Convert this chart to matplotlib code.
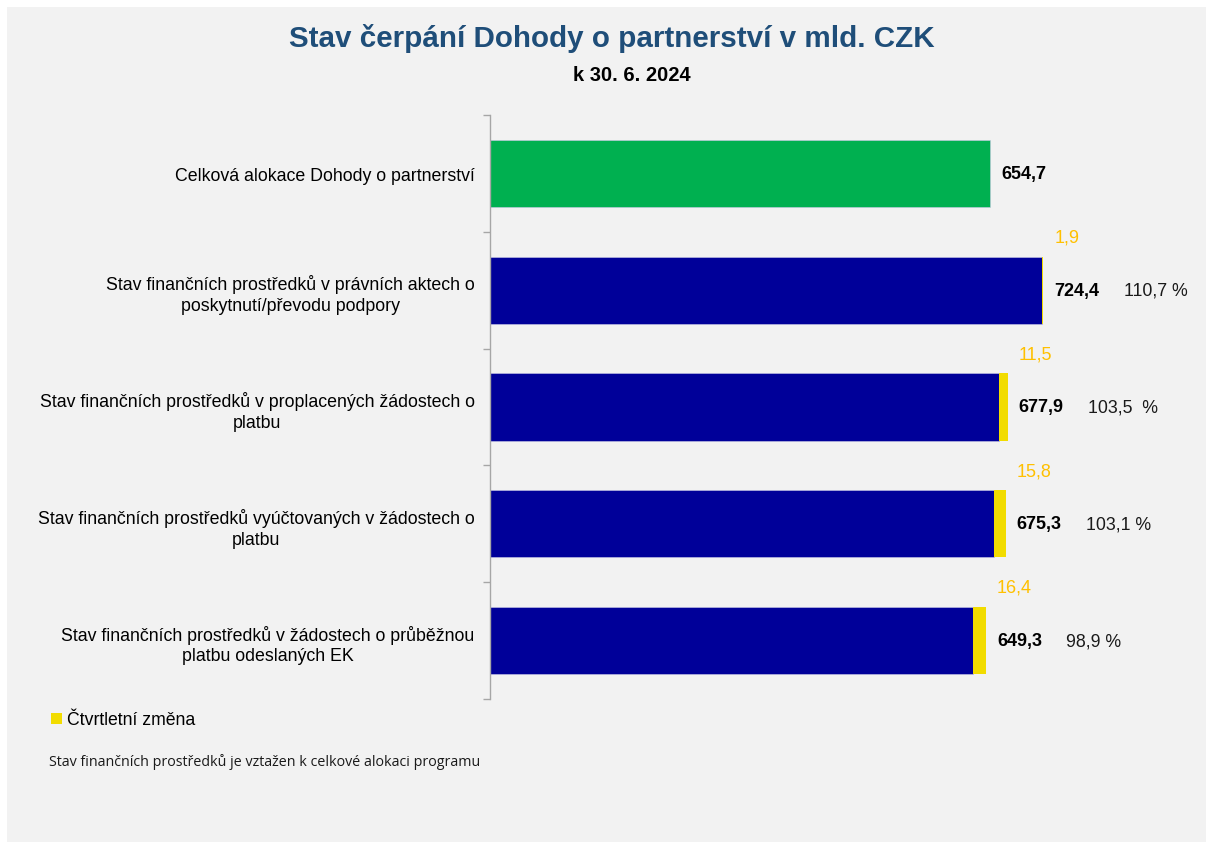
import numpy as np
import matplotlib.pyplot as plt
from matplotlib.patches import Rectangle

# data (mld. CZK)
categories = [
    "Celková alokace Dohody o partnerství",
    "Stav finančních prostředků v právních aktech o\nposkytnutí/převodu podpory",
    "Stav finančních prostředků v proplacených žádostech o\nplatbu",
    "Stav finančních prostředků vyúčtovaných v žádostech o\nplatbu",
    "Stav finančních prostředků v žádostech o průběžnou\nplatbu odeslaných EK",
]
totals = [654.7, 724.4, 677.9, 675.3, 649.3]
changes = [0.0, 1.9, 11.5, 15.8, 16.4]
value_labels = ["654,7", "724,4", "677,9", "675,3", "649,3"]
change_labels = ["", "1,9", "11,5", "15,8", "16,4"]
pct_labels = ["", "110,7 %", "103,5  %", "103,1 %", "98,9 %"]

green = "#00b050"
navy = "#000099"
yellow = "#f2dc00"
gold = "#ffc000"
title_blue = "#1f4e79"

plt.rcParams['font.family'] = ['Liberation Sans', 'DejaVu Sans']

fig = plt.figure(figsize=(12.06, 8.45), dpi=100)
fig.patch.set_facecolor("white")
fig.patches.append(Rectangle((7/1206, 2/845), 1 - 7/1206, 835/845, transform=fig.transFigure,
                             facecolor="#f2f2f2", edgecolor="none", zorder=-10))

ax = fig.add_axes([490/1206, 145/845, 672/1206, 584/845])
ax.set_facecolor("none")

y = np.arange(len(categories))
totals = np.array(totals)
changes = np.array(changes)
base = totals - changes

colors = [green] + [navy] * (len(categories) - 1)
ax.barh(y, base, height=0.575, color=colors, edgecolor="#c8c8e6", linewidth=0.4)
chg = ax.barh(y[1:], changes[1:], left=base[1:], height=0.575, color=yellow,
              edgecolor="none", label="Čtvrtletní změna")

ax.set_xlim(0, 880)
ax.set_ylim(len(categories) - 0.52, -0.48)

for i in range(len(categories)):
    ax.annotate(value_labels[i], (totals[i], y[i]), xytext=(8, 0), textcoords="offset points",
                ha="left", va="center", fontsize=13, fontweight="bold", color="black")
    if pct_labels[i]:
        ax.annotate(pct_labels[i], (totals[i], y[i]), xytext=(58, 0), textcoords="offset points",
                    ha="left", va="center", fontsize=12.8, color="#1a1a1a")
    if change_labels[i]:
        ax.annotate(change_labels[i], (totals[i], y[i] - 0.455), xytext=(8, 0),
                    textcoords="offset points", ha="left", va="center", fontsize=13, color=gold)

# axis styling: boundary ticks, labels centered on categories
ax.set_yticks(np.arange(-0.5, len(categories)), labels=[""] * (len(categories) + 1))
ax.set_yticks(y, labels=categories, minor=True)
ax.tick_params(axis="y", which="major", length=5, width=1, color="#a6a6a6", direction="out")
ax.tick_params(axis="y", which="minor", length=0, pad=11, labelsize=12.8)
for lab in ax.get_yticklabels(minor=True):
    lab.set_multialignment("center")
    lab.set_linespacing(1.3)
ax.set_xticks([])
for s in ["top", "right", "bottom"]:
    ax.spines[s].set_visible(False)
ax.spines["left"].set_color("#a6a6a6")
ax.spines["left"].set_linewidth(1)

fig.text(0.507, 0.955, "Stav čerpání Dohody o partnerství v mld. CZK", ha="center", va="center",
         fontsize=21.3, fontweight="bold", color=title_blue)
fig.text(0.524, 0.911, "k 30. 6. 2024", ha="center", va="center", fontsize=14.5,
         fontweight="bold", color="black")

fig.legend(handles=[chg], loc="center left", bbox_to_anchor=(44/1206, 1 - 721/845),
           frameon=False, fontsize=12.7, handlelength=0.6, handleheight=0.6,
           handletextpad=0.3, borderaxespad=0)

fig.text(49/1206, 1 - 762/845, "Stav finančních prostředků je vztažen k celkové alokaci programu",
         ha="left", va="center", fontsize=10.3, family=["Open Sans", "DejaVu Sans"], color="#1a1a1a")

fig.savefig("out.png", dpi=100)
